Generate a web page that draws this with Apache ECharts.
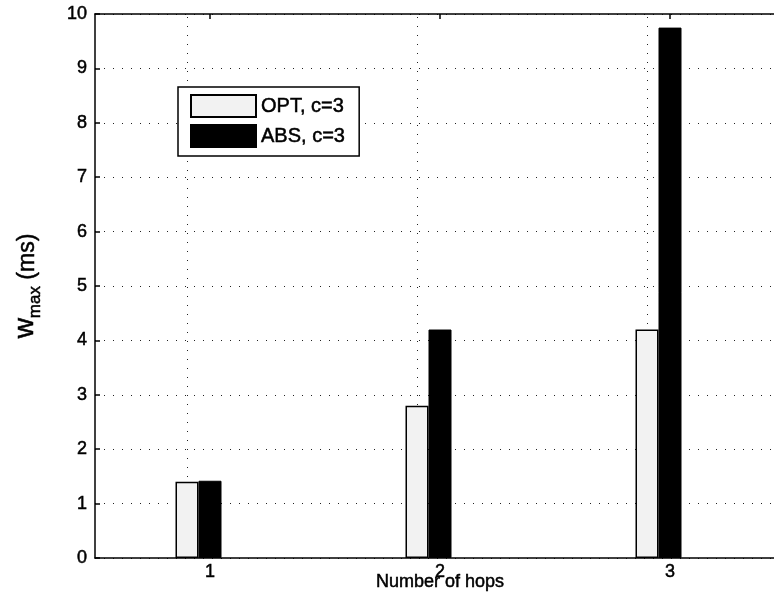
<!DOCTYPE html>
<html>
<head>
<meta charset="utf-8">
<script src="https://cdn.jsdelivr.net/npm/echarts@6/dist/echarts.min.js"></script>
<style>
  html, body { margin: 0; padding: 0; background: #fff; overflow: hidden; }
  /* the plot frame runs past the right edge of the window */
  #chart { width: 800px; height: 609px; }
</style>
</head>
<body>
<div id="chart"></div>
<script>
// Hop counts on the x axis
const hops = ['1', '2', '3'];
// Maximum waiting time (ms) per scheme
const optValues = [1.4, 2.8, 4.2];
const absValues = [1.42, 4.2, 9.75];
// Y tick range
const yMin = 0;
const yMax = 10;
const yStep = 1;

const FONT = '"Liberation Sans", Arial, Helvetica, sans-serif';
const dotted = { color: '#222', width: 1, type: [1, 8] };
// slightly heavier text strokes
const ink = { color: '#000', textBorderColor: '#000', textBorderWidth: 0.5 };

const chart = echarts.init(document.getElementById('chart'), null, { renderer: 'canvas' });

chart.setOption({
  animation: false,
  backgroundColor: '#fff',
  textStyle: { fontFamily: FONT, color: '#000' },
  grid: { left: 95, top: 14, width: 690, height: 544, containLabel: false },
  legend: {
    orient: 'vertical',
    left: 178,
    top: 87,
    data: ['OPT, c=3', 'ABS, c=3'],
    icon: 'rect',
    itemWidth: 65,
    itemHeight: 22,
    itemGap: 6,
    padding: [7, 14, 8, 12],
    backgroundColor: '#fff',
    borderColor: '#000',
    borderWidth: 1.5,
    borderRadius: 0,
    textStyle: Object.assign({ fontFamily: FONT, fontSize: 20 }, ink)
  },
  xAxis: [
    {
      type: 'category',
      data: hops,
      position: 'bottom',
      boundaryGap: true,
      name: 'Number of hops',
      nameLocation: 'middle',
      nameGap: 15,
      nameMoveOverlap: false,
      nameTextStyle: Object.assign({ fontFamily: FONT, fontSize: 18 }, ink),
      axisLine: { show: true, lineStyle: { color: '#000', width: 1.5 } },
      axisTick: { show: true, inside: true, alignWithLabel: true, length: 5, lineStyle: { color: '#000', width: 1.5 } },
      axisLabel: Object.assign({ fontFamily: FONT, fontSize: 18, margin: 5 }, ink),
      splitLine: { show: false }
    },
    {
      type: 'category',
      data: hops,
      position: 'top',
      boundaryGap: true,
      axisLine: { show: true, lineStyle: { color: '#000', width: 1.5 } },
      axisTick: { show: true, inside: true, alignWithLabel: true, length: 5, lineStyle: { color: '#000', width: 1.5 } },
      axisLabel: { show: false },
      splitLine: { show: false }
    }
  ],
  yAxis: {
    type: 'value',
    min: yMin,
    max: yMax,
    interval: yStep,
    name: '{w|w}{s|max}{u| (ms)}',
    nameLocation: 'middle',
    nameGap: 51,
    nameRotate: 90,
    nameTextStyle: {
      fontFamily: FONT,
      color: '#000',
      rich: {
        w: Object.assign({ fontFamily: FONT, fontSize: 28, verticalAlign: 'bottom', padding: [0, 0, 5, 0] }, ink),
        s: Object.assign({ fontFamily: FONT, fontSize: 17, verticalAlign: 'bottom' }, ink),
        u: Object.assign({ fontFamily: FONT, fontSize: 23, verticalAlign: 'bottom', padding: [0, 0, 5, 0] }, ink)
      }
    },
    axisLine: { show: true, lineStyle: { color: '#000', width: 1.5 } },
    axisTick: { show: true, inside: true, length: 5, lineStyle: { color: '#000', width: 1.5 } },
    axisLabel: Object.assign({ fontFamily: FONT, fontSize: 18, margin: 8 }, ink),
    splitLine: { show: true, lineStyle: dotted }
  },
  series: [
    {
      name: 'OPT, c=3',
      type: 'bar',
      xAxisIndex: 0,
      data: optValues,
      barWidth: 23,
      barGap: '0%',
      itemStyle: { color: '#f2f2f2', borderColor: '#000', borderWidth: 1.5 },
      markLine: {
        silent: true,
        symbol: ['none', 'none'],
        label: { show: false },
        lineStyle: dotted,
        z: 1,
        data: hops.map(h => ({ xAxis: h }))
      },
      z: 3
    },
    {
      name: 'ABS, c=3',
      type: 'bar',
      xAxisIndex: 0,
      data: absValues,
      barWidth: 23,
      barGap: '0%',
      itemStyle: { color: '#000', borderColor: '#000', borderWidth: 1 },
      z: 4
    },
    {
      // empty slot so the ABS bar sits on the category centre
      type: 'bar',
      xAxisIndex: 0,
      data: [],
      barWidth: 23,
      barGap: '0%'
    }
  ]
});
</script>
</body>
</html>
